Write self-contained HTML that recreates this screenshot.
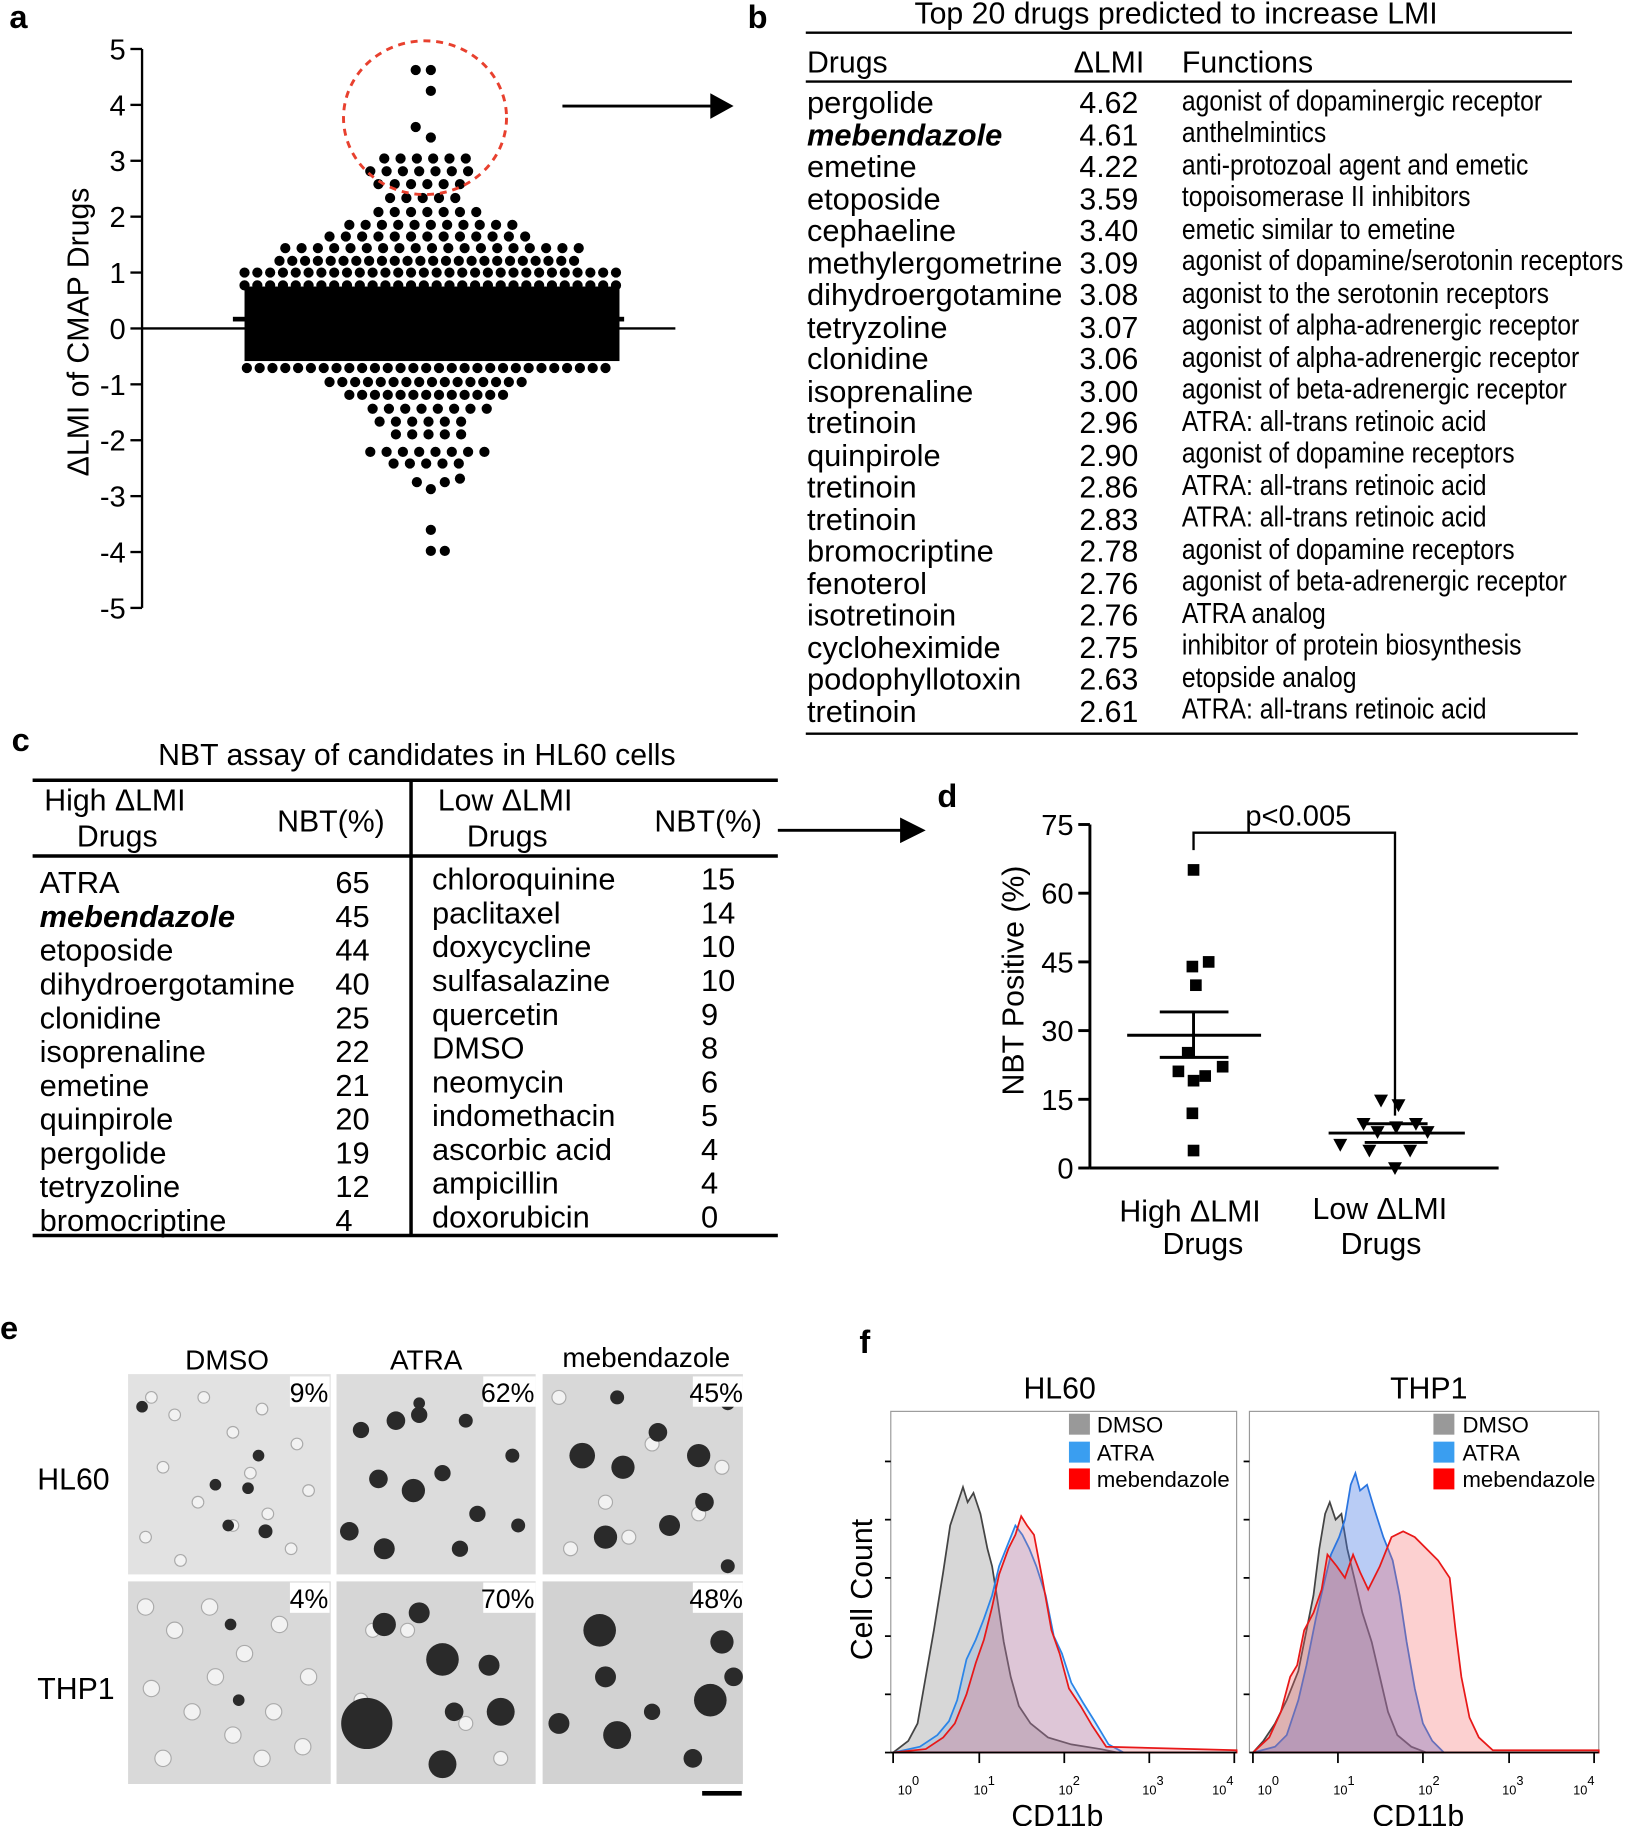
<!DOCTYPE html>
<html><head><meta charset="utf-8"><style>
html,body{margin:0;padding:0;background:#fff;}
svg{display:block;}
text{font-family:"Liberation Sans",Arial,sans-serif;fill:#000;}
</style></head><body>
<svg width="1650" height="1826" viewBox="0 0 1417 1568" xmlns="http://www.w3.org/2000/svg">

<!-- Panel a -->
<text x="8" y="24" font-size="28" font-weight="bold">a</text>
<g stroke="#000" stroke-width="2">
<line x1="122" y1="42" x2="122" y2="522"/>
<line x1="112" y1="42" x2="122" y2="42"/><line x1="112" y1="90" x2="122" y2="90"/><line x1="112" y1="138" x2="122" y2="138"/><line x1="112" y1="186" x2="122" y2="186"/><line x1="112" y1="234" x2="122" y2="234"/><line x1="112" y1="282" x2="122" y2="282"/><line x1="112" y1="330" x2="122" y2="330"/><line x1="112" y1="378" x2="122" y2="378"/><line x1="112" y1="426" x2="122" y2="426"/><line x1="112" y1="474" x2="122" y2="474"/><line x1="112" y1="522" x2="122" y2="522"/>
<line x1="122" y1="282" x2="580" y2="282"/>
</g>
<g font-size="25" text-anchor="end">
<text x="108" y="51">5</text><text x="108" y="99">4</text><text x="108" y="147">3</text><text x="108" y="195">2</text><text x="108" y="243">1</text><text x="108" y="291">0</text><text x="108" y="339">-1</text><text x="108" y="387">-2</text><text x="108" y="435">-3</text><text x="108" y="483">-4</text><text x="108" y="531">-5</text>
</g>
<text transform="translate(76,285) rotate(-90)" font-size="26" text-anchor="middle">ΔLMI of CMAP Drugs</text>
<!-- swarm -->
<g stroke="#000" stroke-width="8.8" stroke-linecap="round" stroke-dasharray="0 14">
<line x1="330" y1="136" x2="410" y2="136"/>
<line x1="318" y1="147" x2="408" y2="147"/>
<line x1="325" y1="158" x2="405" y2="158"/>
<line x1="335" y1="170" x2="395" y2="170"/>
<line x1="325" y1="182" x2="415" y2="182"/>
<line x1="300" y1="193" x2="445" y2="193"/>
<line x1="283" y1="203" x2="455" y2="203"/>
<line x1="245" y1="213" x2="500" y2="213"/>
<line x1="283" y1="351" x2="455" y2="351" stroke-dasharray="0 0" stroke-width="0"/>
<line x1="320" y1="351" x2="420" y2="351"/>
<line x1="326" y1="362" x2="410" y2="362"/>
<line x1="340" y1="373" x2="400" y2="373"/>
<line x1="318" y1="388" x2="425" y2="388"/>
<line x1="338" y1="398" x2="403" y2="398"/>
</g>
<g stroke="#000" stroke-width="8.8" stroke-linecap="round" stroke-dasharray="0 11">
<line x1="240" y1="224" x2="502" y2="224"/>
<line x1="210" y1="234" x2="532" y2="234"/>
<line x1="210" y1="245" x2="532" y2="245"/>
<line x1="212" y1="316" x2="530" y2="316"/>
<line x1="283" y1="328" x2="455" y2="328"/>
<line x1="300" y1="339" x2="440" y2="339"/>
</g>
<rect x="210" y="246" width="322" height="64" fill="#000"/>
<g fill="#000">
<circle cx="357" cy="60" r="4.4"/><circle cx="370" cy="60" r="4.4"/><circle cx="370" cy="78" r="4.4"/><circle cx="357" cy="109" r="4.4"/><circle cx="370" cy="118" r="4.4"/>
<circle cx="358" cy="414" r="4.4"/><circle cx="370" cy="420" r="4.4"/><circle cx="382" cy="414" r="4.4"/><circle cx="395" cy="411" r="4.4"/>
<circle cx="370" cy="455" r="4.4"/><circle cx="370" cy="473" r="4.4"/><circle cx="382" cy="473" r="4.4"/>
</g>
<rect x="200" y="272" width="336" height="4" fill="#000"/>
<ellipse cx="365" cy="101" rx="70" ry="66" fill="none" stroke="#e8402e" stroke-width="2.5" stroke-dasharray="6,5"/>
<line x1="483" y1="91" x2="612" y2="91" stroke="#000" stroke-width="2.5"/>
<polygon points="610,80 630,91 610,102" fill="#000"/>

<!-- Panel b -->
<text x="642" y="24" font-size="28" font-weight="bold">b</text>
<text x="1010" y="20" font-size="26" text-anchor="middle">Top 20 drugs predicted to increase LMI</text>
<line x1="692" y1="28" x2="1350" y2="28" stroke="#000" stroke-width="2"/>
<text x="693" y="62" font-size="26">Drugs</text><text x="922" y="62" font-size="26">ΔLMI</text><text x="1015" y="62" font-size="26">Functions</text>
<line x1="692" y1="70" x2="1350" y2="70" stroke="#000" stroke-width="2"/>
<g font-size="26.5">
<text x="693" y="97">pergolide</text>
<text x="693" y="125" font-weight="bold" font-style="italic">mebendazole</text>
<text x="693" y="152">emetine</text>
<text x="693" y="180">etoposide</text>
<text x="693" y="207">cephaeline</text>
<text x="693" y="235">methylergometrine</text>
<text x="693" y="262">dihydroergotamine</text>
<text x="693" y="290">tetryzoline</text>
<text x="693" y="317">clonidine</text>
<text x="693" y="345">isoprenaline</text>
<text x="693" y="372">tretinoin</text>
<text x="693" y="400">quinpirole</text>
<text x="693" y="427">tretinoin</text>
<text x="693" y="455">tretinoin</text>
<text x="693" y="482">bromocriptine</text>
<text x="693" y="510">fenoterol</text>
<text x="693" y="537">isotretinoin</text>
<text x="693" y="565">cycloheximide</text>
<text x="693" y="592">podophyllotoxin</text>
<text x="693" y="620">tretinoin</text>
</g>
<g font-size="26">
<text x="927" y="97">4.62</text><text x="927" y="125">4.61</text><text x="927" y="152">4.22</text><text x="927" y="180">3.59</text><text x="927" y="207">3.40</text><text x="927" y="235">3.09</text><text x="927" y="262">3.08</text><text x="927" y="290">3.07</text><text x="927" y="317">3.06</text><text x="927" y="345">3.00</text><text x="927" y="372">2.96</text><text x="927" y="400">2.90</text><text x="927" y="427">2.86</text><text x="927" y="455">2.83</text><text x="927" y="482">2.78</text><text x="927" y="510">2.76</text><text x="927" y="537">2.76</text><text x="927" y="565">2.75</text><text x="927" y="592">2.63</text><text x="927" y="620">2.61</text>
</g>
<g font-size="25" transform="translate(1015,0) scale(0.85,1)">
<text x="0" y="95">agonist of dopaminergic receptor</text>
<text x="0" y="122">anthelmintics</text>
<text x="0" y="150">anti-protozoal agent and emetic</text>
<text x="0" y="177">topoisomerase II inhibitors</text>
<text x="0" y="205">emetic similar to emetine</text>
<text x="0" y="232">agonist of dopamine/serotonin receptors</text>
<text x="0" y="260">agonist to the serotonin receptors</text>
<text x="0" y="287">agonist of alpha-adrenergic receptor</text>
<text x="0" y="315">agonist of alpha-adrenergic  receptor</text>
<text x="0" y="342">agonist of beta-adrenergic receptor</text>
<text x="0" y="370">ATRA: all-trans retinoic acid</text>
<text x="0" y="397">agonist of dopamine receptors</text>
<text x="0" y="425">ATRA: all-trans retinoic acid</text>
<text x="0" y="452">ATRA: all-trans retinoic acid</text>
<text x="0" y="480">agonist of dopamine receptors</text>
<text x="0" y="507">agonist of beta-adrenergic receptor</text>
<text x="0" y="535">ATRA analog</text>
<text x="0" y="562">inhibitor of protein biosynthesis</text>
<text x="0" y="590">etopside analog</text>
<text x="0" y="617">ATRA: all-trans retinoic acid</text>
</g>
<line x1="692" y1="630" x2="1355" y2="630" stroke="#000" stroke-width="2"/>

<!-- Panel c -->
<text x="10" y="645" font-size="28" font-weight="bold">c</text>
<text x="358" y="657" font-size="26" text-anchor="middle">NBT assay of candidates in HL60 cells</text>
<g stroke="#000" stroke-width="3">
<line x1="28" y1="670" x2="668" y2="670"/><line x1="28" y1="735" x2="668" y2="735"/><line x1="28" y1="1061" x2="668" y2="1061"/><line x1="353" y1="670" x2="353" y2="1061"/>
</g>
<g font-size="26">
<text x="38" y="696">High ΔLMI</text><text x="66" y="727">Drugs</text><text x="238" y="714">NBT(%)</text>
<text x="376" y="696">Low ΔLMI</text><text x="401" y="727">Drugs</text><text x="562" y="714">NBT(%)</text>
</g>
<g font-size="26.5">
<text x="34" y="767">ATRA</text><text x="34" y="796" font-weight="bold" font-style="italic">mebendazole</text><text x="34" y="825">etoposide</text><text x="34" y="854">dihydroergotamine</text><text x="34" y="883">clonidine</text><text x="34" y="912">isoprenaline</text><text x="34" y="941">emetine</text><text x="34" y="970">quinpirole</text><text x="34" y="999">pergolide</text><text x="34" y="1028">tetryzoline</text><text x="34" y="1057">bromocriptine</text>
<text x="288" y="767">65</text><text x="288" y="796">45</text><text x="288" y="825">44</text><text x="288" y="854">40</text><text x="288" y="883">25</text><text x="288" y="912">22</text><text x="288" y="941">21</text><text x="288" y="970">20</text><text x="288" y="999">19</text><text x="288" y="1028">12</text><text x="288" y="1057">4</text>
<text x="371" y="764">chloroquinine</text><text x="371" y="793">paclitaxel</text><text x="371" y="822">doxycycline</text><text x="371" y="851">sulfasalazine</text><text x="371" y="880">quercetin</text><text x="371" y="909">DMSO</text><text x="371" y="938">neomycin</text><text x="371" y="967">indomethacin</text><text x="371" y="996">ascorbic acid</text><text x="371" y="1025">ampicillin</text><text x="371" y="1054">doxorubicin</text>
<text x="602" y="764">15</text><text x="602" y="793">14</text><text x="602" y="822">10</text><text x="602" y="851">10</text><text x="602" y="880">9</text><text x="602" y="909">8</text><text x="602" y="938">6</text><text x="602" y="967">5</text><text x="602" y="996">4</text><text x="602" y="1025">4</text><text x="602" y="1054">0</text>
</g>
<line x1="668" y1="713" x2="775" y2="713" stroke="#000" stroke-width="2.5"/>
<polygon points="773,702 795,713 773,724" fill="#000"/>

<!-- Panel d -->
<text x="805" y="693" font-size="28" font-weight="bold">d</text>
<g stroke="#000" stroke-width="2.5">
<line x1="936" y1="708" x2="936" y2="1003"/><line x1="936" y1="1003" x2="1287" y2="1003"/>
<line x1="926" y1="708" x2="936" y2="708"/><line x1="926" y1="767" x2="936" y2="767"/><line x1="926" y1="826" x2="936" y2="826"/><line x1="926" y1="885" x2="936" y2="885"/><line x1="926" y1="944" x2="936" y2="944"/><line x1="926" y1="1003" x2="936" y2="1003"/>
</g>
<g font-size="25" text-anchor="end">
<text x="922" y="717">75</text><text x="922" y="776">60</text><text x="922" y="835">45</text><text x="922" y="894">30</text><text x="922" y="953">15</text><text x="922" y="1012">0</text>
</g>
<text transform="translate(879,842) rotate(-90)" font-size="26" text-anchor="middle">NBT Positive (%)</text>
<polyline points="1025,730 1025,715 1198,715 1198,958" fill="none" stroke="#000" stroke-width="2"/>
<text x="1115" y="709" font-size="25" text-anchor="middle">p&lt;0.005</text>
<g stroke="#000" stroke-width="2.5">
<line x1="968" y1="889" x2="1083" y2="889"/><line x1="996" y1="869" x2="1055" y2="869"/><line x1="996" y1="908" x2="1055" y2="908"/><line x1="1025" y1="869" x2="1025" y2="908"/>
<line x1="1141" y1="973" x2="1258" y2="973"/><line x1="1172" y1="965" x2="1226" y2="965"/><line x1="1172" y1="981" x2="1226" y2="981"/>
</g>
<g fill="#000">
<rect x="1020" y="742" width="10" height="10"/><rect x="1033" y="821" width="10" height="10"/><rect x="1019" y="825" width="10" height="10"/><rect x="1022" y="841" width="10" height="10"/><rect x="1015" y="899" width="10" height="10"/><rect x="1045" y="911" width="10" height="10"/><rect x="1007" y="915" width="10" height="10"/><rect x="1030" y="919" width="10" height="10"/><rect x="1020" y="923" width="10" height="10"/><rect x="1019" y="951" width="10" height="10"/><rect x="1020" y="983" width="10" height="10"/>
</g>
<g fill="#000">
<polygon points="1180,940 1192,940 1186,951"/><polygon points="1195,944 1207,944 1201,955"/><polygon points="1165,960 1177,960 1171,971"/><polygon points="1210,960 1222,960 1216,971"/><polygon points="1193,963 1205,963 1199,974"/><polygon points="1177,967 1189,967 1183,978"/><polygon points="1220,967 1232,967 1226,978"/><polygon points="1145,978 1157,978 1151,989"/><polygon points="1170,983 1182,983 1176,994"/><polygon points="1205,983 1217,983 1211,994"/><polygon points="1192,998 1204,998 1198,1009"/>
</g>
<g font-size="26" text-anchor="middle">
<text x="1022" y="1049">High ΔLMI</text><text x="1033" y="1077">Drugs</text>
<text x="1185" y="1047">Low ΔLMI</text><text x="1186" y="1077">Drugs</text>
</g>

<!-- Panel e -->
<text x="0" y="1150" font-size="28" font-weight="bold">e</text>
<g font-size="24" text-anchor="middle">
<text x="195" y="1176">DMSO</text><text x="366" y="1176">ATRA</text><text x="555" y="1174">mebendazole</text>
</g>
<text x="32" y="1279" font-size="26">HL60</text>
<text x="32" y="1459" font-size="26">THP1</text>
<g>
<rect x="110" y="1180" width="174" height="172" fill="#e2e2e2"/>
<rect x="289" y="1180" width="171" height="172" fill="#dcdcdc"/>
<rect x="466" y="1180" width="172" height="172" fill="#d8d8d8"/>
<rect x="110" y="1358" width="174" height="174" fill="#d9d9d9"/>
<rect x="289" y="1358" width="171" height="174" fill="#d6d6d6"/>
<rect x="466" y="1358" width="172" height="174" fill="#d2d2d2"/>
</g>
<g fill="#f2f2f2" stroke="#aaa" stroke-width="1">
<circle cx="130" cy="1200" r="5"/><circle cx="150" cy="1215" r="5"/><circle cx="175" cy="1200" r="5"/><circle cx="200" cy="1230" r="5"/><circle cx="225" cy="1210" r="5"/><circle cx="255" cy="1240" r="5"/><circle cx="140" cy="1260" r="5"/><circle cx="170" cy="1290" r="5"/><circle cx="200" cy="1310" r="5"/><circle cx="230" cy="1300" r="5"/><circle cx="250" cy="1330" r="5"/><circle cx="125" cy="1320" r="5"/><circle cx="155" cy="1340" r="5"/><circle cx="265" cy="1280" r="5"/><circle cx="215" cy="1265" r="5"/>
<circle cx="125" cy="1380" r="7"/><circle cx="150" cy="1400" r="7"/><circle cx="180" cy="1380" r="7"/><circle cx="210" cy="1420" r="7"/><circle cx="240" cy="1395" r="7"/><circle cx="130" cy="1450" r="7"/><circle cx="165" cy="1470" r="7"/><circle cx="200" cy="1490" r="7"/><circle cx="235" cy="1470" r="7"/><circle cx="260" cy="1500" r="7"/><circle cx="140" cy="1510" r="7"/><circle cx="185" cy="1440" r="7"/><circle cx="225" cy="1510" r="7"/><circle cx="265" cy="1440" r="7"/>
<circle cx="480" cy="1200" r="6"/><circle cx="520" cy="1290" r="6"/><circle cx="560" cy="1240" r="6"/><circle cx="600" cy="1300" r="6"/><circle cx="490" cy="1330" r="6"/><circle cx="620" cy="1260" r="6"/><circle cx="540" cy="1320" r="6"/>
<circle cx="320" cy="1400" r="6"/><circle cx="310" cy="1460" r="6"/><circle cx="400" cy="1480" r="6"/><circle cx="430" cy="1510" r="6"/><circle cx="350" cy="1400" r="6"/>
</g>
<g fill="#2a2a2a">
<circle cx="122" cy="1208" r="5"/><circle cx="185" cy="1275" r="5"/><circle cx="213" cy="1278" r="5"/><circle cx="222" cy="1250" r="5"/><circle cx="228" cy="1315" r="6"/><circle cx="196" cy="1310" r="5"/>
<circle cx="198" cy="1395" r="5"/><circle cx="205" cy="1460" r="5"/>
<circle cx="310" cy="1228" r="7"/><circle cx="340" cy="1220" r="8"/><circle cx="360" cy="1215" r="7"/><circle cx="400" cy="1220" r="6"/><circle cx="325" cy="1270" r="8"/><circle cx="355" cy="1280" r="10"/><circle cx="380" cy="1265" r="7"/><circle cx="300" cy="1315" r="8"/><circle cx="330" cy="1330" r="9"/><circle cx="410" cy="1300" r="7"/><circle cx="440" cy="1250" r="6"/><circle cx="445" cy="1310" r="6"/><circle cx="395" cy="1330" r="7"/><circle cx="360" cy="1205" r="5"/>
<circle cx="500" cy="1250" r="11"/><circle cx="535" cy="1260" r="10"/><circle cx="565" cy="1230" r="8"/><circle cx="600" cy="1250" r="10"/><circle cx="530" cy="1200" r="6"/><circle cx="520" cy="1320" r="10"/><circle cx="575" cy="1310" r="9"/><circle cx="605" cy="1290" r="8"/><circle cx="625" cy="1205" r="6"/><circle cx="625" cy="1345" r="6"/>
<circle cx="330" cy="1395" r="10"/><circle cx="360" cy="1385" r="9"/><circle cx="380" cy="1425" r="14"/><circle cx="315" cy="1480" r="22"/><circle cx="390" cy="1470" r="8"/><circle cx="420" cy="1430" r="9"/><circle cx="430" cy="1470" r="12"/><circle cx="380" cy="1515" r="12"/>
<circle cx="515" cy="1400" r="14"/><circle cx="520" cy="1440" r="9"/><circle cx="620" cy="1410" r="10"/><circle cx="610" cy="1460" r="14"/><circle cx="530" cy="1490" r="12"/><circle cx="480" cy="1480" r="9"/><circle cx="560" cy="1470" r="7"/><circle cx="595" cy="1510" r="8"/><circle cx="630" cy="1440" r="8"/>
</g>
<g font-size="23" text-anchor="end">
<rect x="249" y="1182" width="34" height="26" fill="#fff"/><text x="282" y="1204">9%</text>
<rect x="415" y="1182" width="45" height="26" fill="#fff"/><text x="459" y="1204">62%</text>
<rect x="595" y="1182" width="43" height="26" fill="#fff"/><text x="638" y="1204">45%</text>
<rect x="249" y="1359" width="34" height="26" fill="#fff"/><text x="282" y="1381">4%</text>
<rect x="415" y="1359" width="45" height="26" fill="#fff"/><text x="459" y="1381">70%</text>
<rect x="595" y="1359" width="43" height="26" fill="#fff"/><text x="638" y="1381">48%</text>
</g>
<rect x="603" y="1538" width="34" height="4" fill="#000"/>

<!-- Panel f -->
<text x="738" y="1162" font-size="28" font-weight="bold">f</text>
<text x="910" y="1201" font-size="26" text-anchor="middle">HL60</text>
<text x="1227" y="1201" font-size="26" text-anchor="middle">THP1</text>
<text transform="translate(749,1365) rotate(-90)" font-size="26" text-anchor="middle">Cell Count</text>
<rect x="765" y="1212" width="297" height="293" fill="none" stroke="#999" stroke-width="1"/>
<rect x="1073" y="1212" width="300" height="293" fill="none" stroke="#999" stroke-width="1"/>
<path d="M767,1505 L780,1495 L788,1480 L795,1440 L802,1400 L810,1350 L816,1310 L822,1292 L827,1277 L831,1290 L836,1282 L842,1300 L848,1330 L852,1345 L856,1370 L862,1410 L868,1440 L875,1465 L885,1480 L900,1492 L920,1498 L945,1502 L960,1505 Z" fill="rgba(150,150,150,0.38)" stroke="#444" stroke-width="1.5"/>
<path d="M767,1505 L790,1500 L805,1490 L815,1478 L822,1460 L830,1425 L838,1408 L845,1390 L852,1370 L858,1345 L866,1325 L872,1310 L878,1318 L884,1330 L890,1345 L898,1370 L905,1405 L912,1420 L920,1445 L930,1462 L940,1478 L952,1498 L965,1505 Z" fill="rgba(90,160,230,0.22)" stroke="#2a85e8" stroke-width="1.5"/>
<path d="M767,1505 L795,1502 L810,1492 L820,1480 L830,1455 L838,1428 L845,1408 L852,1380 L858,1352 L866,1330 L872,1318 L877,1302 L882,1310 L888,1318 L895,1355 L903,1400 L910,1420 L918,1450 L928,1465 L938,1482 L950,1500 L1062,1503 L1062,1505 Z" fill="rgba(230,90,110,0.25)" stroke="#e81818" stroke-width="1.5"/>
<path d="M1076,1505 L1085,1495 L1095,1480 L1105,1460 L1115,1435 L1122,1400 L1128,1370 L1133,1330 L1138,1300 L1142,1290 L1147,1305 L1152,1300 L1157,1330 L1163,1355 L1170,1385 L1178,1410 L1185,1440 L1192,1470 L1200,1490 L1212,1500 L1225,1505 Z" fill="rgba(150,150,150,0.4)" stroke="#444" stroke-width="1.5"/>
<path d="M1076,1505 L1095,1500 L1105,1490 L1115,1460 L1122,1430 L1130,1390 L1137,1360 L1143,1335 L1150,1320 L1155,1305 L1160,1275 L1164,1265 L1168,1280 L1174,1275 L1180,1295 L1188,1320 L1196,1340 L1202,1370 L1208,1410 L1215,1450 L1222,1480 L1230,1495 L1240,1505 Z" fill="rgba(70,120,230,0.38)" stroke="#2a75e0" stroke-width="1.5"/>
<path d="M1076,1505 L1090,1492 L1100,1470 L1108,1440 L1114,1430 L1120,1400 L1128,1385 L1135,1365 L1140,1335 L1148,1345 L1155,1355 L1162,1335 L1168,1350 L1175,1365 L1185,1345 L1195,1320 L1205,1315 L1215,1320 L1225,1330 L1235,1340 L1245,1355 L1250,1400 L1255,1440 L1262,1475 L1270,1492 L1282,1503 L1373,1503 L1373,1505 Z" fill="rgba(245,100,100,0.3)" stroke="#e81818" stroke-width="1.5"/>
<g stroke="#000" stroke-width="1.5">
<line x1="765" y1="1505" x2="1062" y2="1505"/><line x1="1073" y1="1505" x2="1373" y2="1505"/>
<line x1="767" y1="1505" x2="767" y2="1514"/><line x1="841" y1="1505" x2="841" y2="1514"/><line x1="914" y1="1505" x2="914" y2="1514"/><line x1="987" y1="1505" x2="987" y2="1514"/><line x1="1060" y1="1505" x2="1060" y2="1514"/>
<line x1="1076" y1="1505" x2="1076" y2="1514"/><line x1="1149" y1="1505" x2="1149" y2="1514"/><line x1="1222" y1="1505" x2="1222" y2="1514"/><line x1="1296" y1="1505" x2="1296" y2="1514"/><line x1="1369" y1="1505" x2="1369" y2="1514"/>
<line x1="760" y1="1505" x2="765" y2="1505"/><line x1="760" y1="1455" x2="765" y2="1455"/><line x1="760" y1="1405" x2="765" y2="1405"/><line x1="760" y1="1355" x2="765" y2="1355"/><line x1="760" y1="1305" x2="765" y2="1305"/><line x1="760" y1="1255" x2="765" y2="1255"/>
<line x1="1068" y1="1255" x2="1073" y2="1255"/><line x1="1068" y1="1305" x2="1073" y2="1305"/><line x1="1068" y1="1355" x2="1073" y2="1355"/><line x1="1068" y1="1405" x2="1073" y2="1405"/><line x1="1068" y1="1455" x2="1073" y2="1455"/>
</g>
<g font-size="11">
<text x="771" y="1541">10<tspan dy="-8">0</tspan></text><text x="836" y="1541">10<tspan dy="-8">1</tspan></text><text x="909" y="1541">10<tspan dy="-8">2</tspan></text><text x="981" y="1541">10<tspan dy="-8">3</tspan></text><text x="1041" y="1541">10<tspan dy="-8">4</tspan></text>
<text x="1080" y="1541">10<tspan dy="-8">0</tspan></text><text x="1145" y="1541">10<tspan dy="-8">1</tspan></text><text x="1218" y="1541">10<tspan dy="-8">2</tspan></text><text x="1290" y="1541">10<tspan dy="-8">3</tspan></text><text x="1351" y="1541">10<tspan dy="-8">4</tspan></text>
</g>
<text x="908" y="1568" font-size="26" text-anchor="middle">CD11b</text>
<text x="1218" y="1568" font-size="26" text-anchor="middle">CD11b</text>
<g font-size="19">
<rect x="918" y="1214" width="18" height="18" fill="#999"/><text x="942" y="1230">DMSO</text>
<rect x="918" y="1238" width="18" height="18" fill="#3a9ef0"/><text x="942" y="1254">ATRA</text>
<rect x="918" y="1261" width="18" height="18" fill="#f00"/><text x="942" y="1277">mebendazole</text>
<rect x="1231" y="1214" width="18" height="18" fill="#999"/><text x="1256" y="1230">DMSO</text>
<rect x="1231" y="1238" width="18" height="18" fill="#3a9ef0"/><text x="1256" y="1254">ATRA</text>
<rect x="1231" y="1261" width="18" height="18" fill="#f00"/><text x="1256" y="1277">mebendazole</text>
</g>
</svg>
</body></html>
